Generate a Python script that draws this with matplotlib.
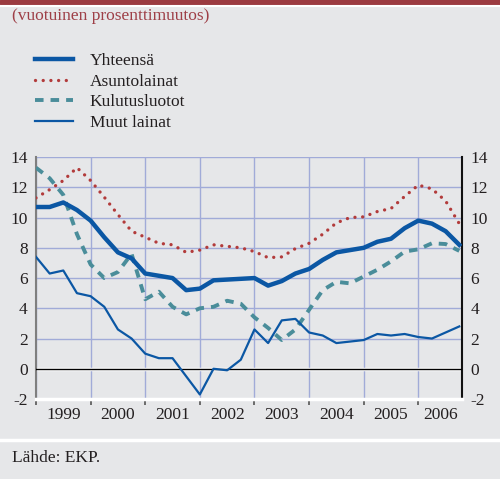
import matplotlib.pyplot as plt
from matplotlib.lines import Line2D
from matplotlib.patches import Rectangle

# quarterly observations 1999Q1 ... 2006Q4
quarters = [1999 + k / 4 for k in range(32)]

yhteensa = [10.7, 10.7, 11.0, 10.5, 9.8, 8.7, 7.7, 7.3,
            6.3, 6.15, 6.0, 5.2, 5.3, 5.85, 5.9, 5.95,
            6.0, 5.5, 5.8, 6.3, 6.6, 7.2, 7.7, 7.85,
            8.0, 8.4, 8.6, 9.3, 9.8, 9.6, 9.1, 8.2]
asuntolainat = [11.3, 11.85, 12.45, 13.3, 12.45, 11.35, 10.2, 9.1,
                8.7, 8.3, 8.2, 7.7, 7.85, 8.2, 8.1, 8.0,
                7.75, 7.35, 7.4, 7.95, 8.3, 8.9, 9.65, 10.0,
                10.05, 10.4, 10.6, 11.4, 12.15, 11.9, 11.1, 9.6]
kulutusluotot = [13.3, 12.6, 11.5, 8.9, 6.9, 6.0, 6.4, 7.6,
                 4.6, 5.1, 4.1, 3.6, 4.0, 4.1, 4.5, 4.3,
                 3.4, 2.7, 1.9, 2.6, 3.9, 5.2, 5.75, 5.65,
                 6.1, 6.55, 7.1, 7.75, 7.9, 8.3, 8.25, 7.8]
muut_lainat = [7.4, 6.3, 6.5, 5.0, 4.8, 4.1, 2.6, 2.0,
               1.0, 0.7, 0.7, -0.5, -1.7, 0.0, -0.1, 0.6,
               2.6, 1.7, 3.2, 3.3, 2.4, 2.2, 1.7, 1.8,
               1.9, 2.3, 2.2, 2.3, 2.1, 2.0, 2.4, 2.8]

years = [1999, 2000, 2001, 2002, 2003, 2004, 2005, 2006]
yticks = [-2, 0, 2, 4, 6, 8, 10, 12, 14]

bg = "#e6e7e9"
blue = "#0b57a4"
red = "#b23b3b"
teal = "#4a8d9a"
grid_col = "#a1abd8"
text_col = "#231f20"

plt.rcParams["font.family"] = ["Liberation Serif", "DejaVu Serif"]
fs = 12.5

fig = plt.figure(figsize=(5, 4.79), dpi=100, facecolor=bg)
ax = fig.add_axes([0.072, 0.167, 0.852, 0.505])
ax.set_facecolor(bg)

# header bar and separators
fig.patches.append(Rectangle((0, 1 - 3.5 / 479), 1, 3.5 / 479,
                             transform=fig.transFigure, color="#9b3b40"))
fig.add_artist(Line2D([0, 1], [1 - 5.5 / 479] * 2, color="white", lw=1.5))
fig.add_artist(Line2D([0, 1], [1 - 440 / 479] * 2, color="white", lw=2.5))

fig.text(12 / 500, 1 - 16 / 479, "(vuotuinen prosenttimuutos)", color="#9e3f47",
         fontsize=fs, va="center", ha="left")
fig.text(12 / 500, 1 - 458 / 479, "Lähde: EKP.", color=text_col,
         fontsize=fs, va="center", ha="left")

ax.plot(quarters, yhteensa, color=blue, lw=3.2, label="Yhteensä",
        solid_joinstyle="round", zorder=5)
ax.plot(quarters, asuntolainat, color=red, lw=2.4, linestyle=(0, (0.01, 2.3)),
        dash_capstyle="round", label="Asuntolainat", zorder=4)
ax.plot(quarters, kulutusluotot, color=teal, lw=2.8, linestyle=(0, (2.2, 1.8)),
        label="Kulutusluotot", zorder=4)
ax.plot(quarters, muut_lainat, color=blue, lw=1.6, label="Muut lainat", zorder=4)

ax.axhline(0, color="white", lw=2.5, zorder=2)
ax.axhline(0, color="black", lw=1.0, zorder=3)

ax.set_xlim(1999, 2006.8)
ax.set_ylim(-2, 14)

ax.set_yticks(yticks)
ax.set_yticklabels([str(v) for v in yticks])
ax.tick_params(axis="y", length=0, labelleft=True, labelright=True,
               labelsize=fs, labelcolor=text_col, pad=6)

ax.set_xticks(years)
ax.set_xticklabels([])
centers = [y + 0.5 for y in years[:-1]] + [(2006 + 2006.8) / 2]
ax.set_xticks(centers, minor=True)
ax.set_xticklabels([str(y) for y in years], minor=True)
ax.tick_params(axis="x", which="major", length=4, color="#555555", width=1.2,
               direction="out")
ax.tick_params(axis="x", which="minor", length=0, labelsize=fs,
               labelcolor=text_col, pad=6)

ax.grid(True, which="major", color=grid_col, lw=1.0)
ax.set_axisbelow(True)

ax.spines["top"].set_visible(False)
ax.spines["bottom"].set_color("white")
ax.spines["bottom"].set_linewidth(2.5)
ax.spines["left"].set_color("#7f7f7f")
ax.spines["left"].set_linewidth(1.5)
ax.spines["right"].set_color("#111111")
ax.spines["right"].set_linewidth(1.5)

ax.legend(loc="upper left", bbox_to_anchor=(35 / 500, 1 - 53 / 479),
          bbox_transform=fig.transFigure, frameon=False, fontsize=fs,
          handlelength=2.2, handletextpad=0.95, labelspacing=0.26,
          borderpad=0, borderaxespad=0, labelcolor=text_col)

fig.savefig("out.png", dpi=100, facecolor=bg)
